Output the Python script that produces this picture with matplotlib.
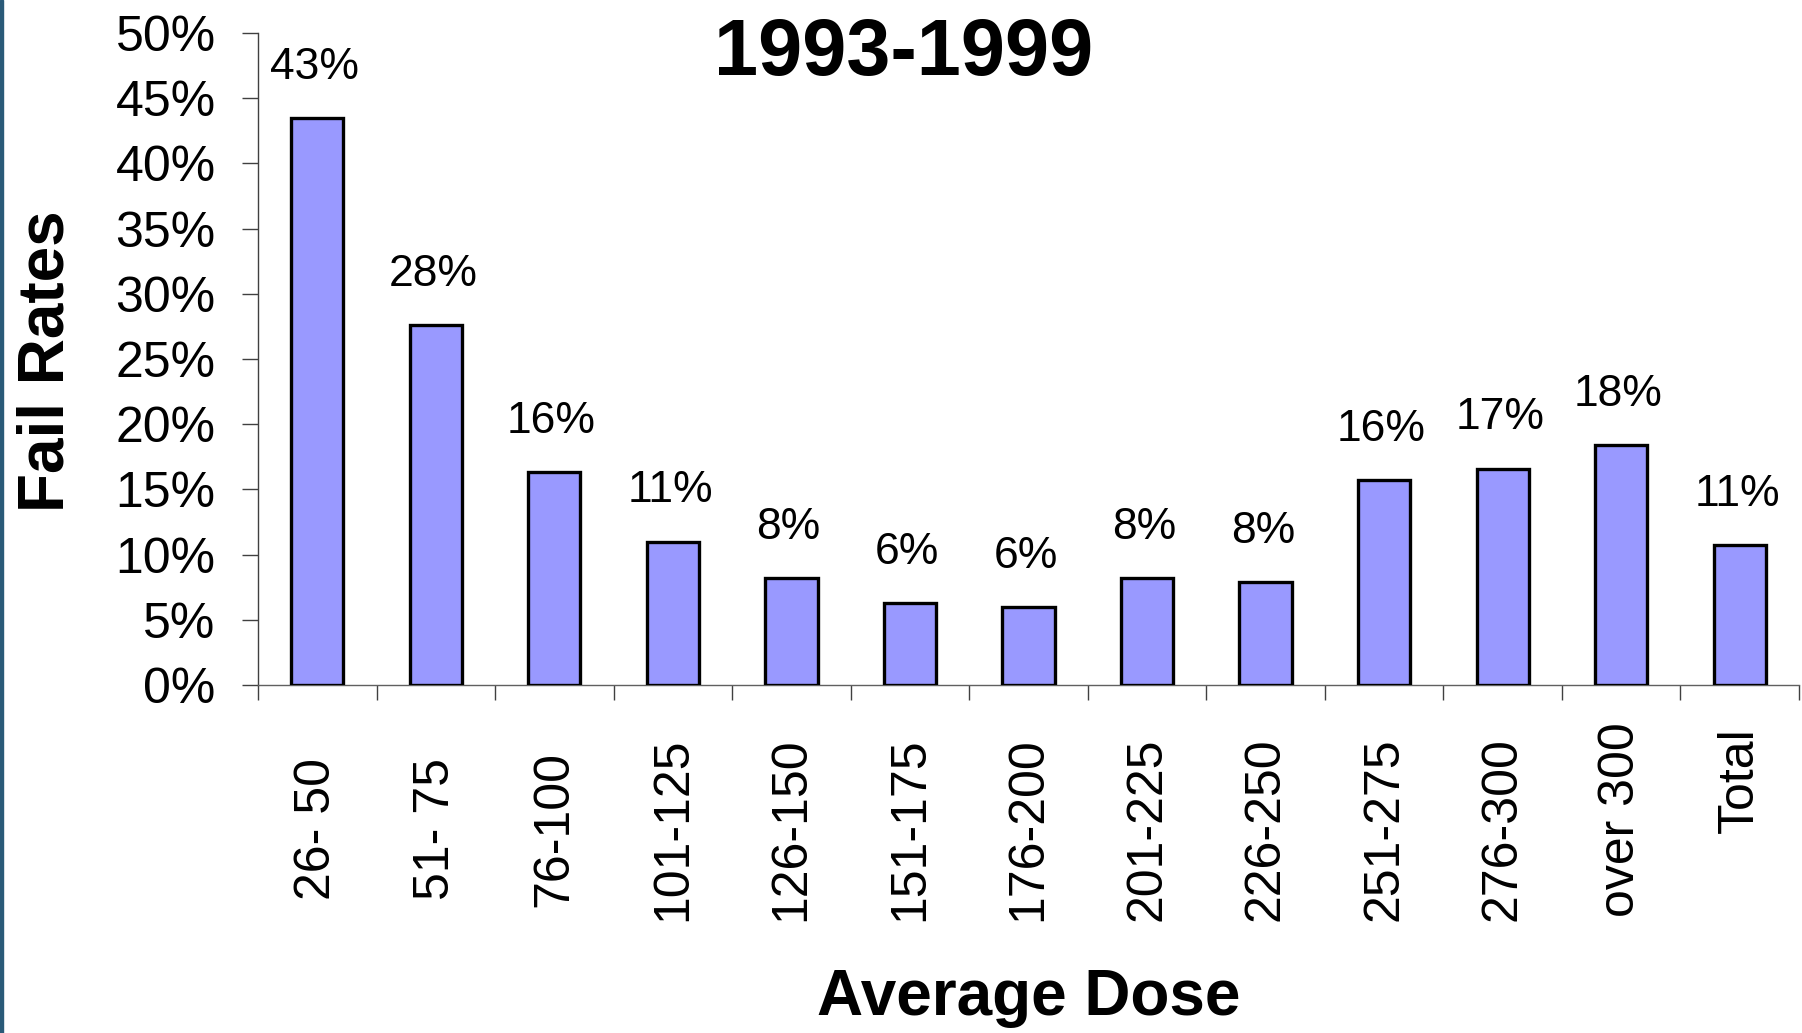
import matplotlib
matplotlib.use("Agg")
import matplotlib.pyplot as plt
import matplotlib.transforms as mtransforms
from matplotlib.patches import Rectangle

plt.rcParams['font.family'] = ['Liberation Sans', 'DejaVu Sans']

categories = ["26- 50", "51- 75", "76-100", "101-125", "126-150", "151-175",
              "176-200", "201-225", "226-250", "251-275", "276-300", "over 300", "Total"]
values = [43.5, 27.6, 16.3, 11.0, 8.2, 6.3, 6.0, 8.2, 7.9, 15.7, 16.6, 18.4, 10.7]
labels = ["43%", "28%", "16%", "11%", "8%", "6%", "6%", "8%", "8%", "16%", "17%", "18%", "11%"]
yticks = [0, 5, 10, 15, 20, 25, 30, 35, 40, 45, 50]
ytick_labels = [f"{t}%" for t in yticks]
title = "1993-1999"
xlabel = "Average Dose"
ylabel = "Fail Rates"

W, H = 1802, 1033
fig = plt.figure(figsize=(W / 100, H / 100), dpi=100)
fig.patch.set_facecolor("white")
ax = fig.add_axes([258 / W, 1 - 685 / H, (1799 - 258) / W, (685 - 33) / H])

n = len(categories)
x = list(range(n))
ax.bar(x, values, width=0.44, color="#9999FF", edgecolor="black", linewidth=2.4, zorder=3)
ax.set_xlim(-0.5, n - 0.5)
ax.set_ylim(0, 50)

for xi, v, lab in zip(x, values, labels):
    ax.annotate(lab, (xi, v), xytext=(-2, 36.5), textcoords="offset points",
                ha="center", va="center", fontsize=32, color="black")

ax.set_yticks(yticks)
ax.set_yticklabels(ytick_labels, fontsize=36)
ax.tick_params(axis="y", direction="out", length=11.5, width=1, color="#404040", pad=19)

# category boundary ticks on x-axis
ax.set_xticks([i - 0.5 for i in range(n + 1)])
ax.set_xticklabels([""] * (n + 1))
ax.tick_params(axis="x", which="major", direction="out", length=11, width=1, color="#404040")
ax.set_xticks(x, minor=True)
ax.set_xticklabels(categories, minor=True, rotation=90, fontsize=36, va="center", ha="center")
ax.tick_params(axis="x", which="minor", length=0, pad=104)
for i, t in enumerate(ax.get_xticklabels(minor=True)):
    if categories[i] == "Total":
        t.set_transform(t.get_transform() + mtransforms.ScaledTranslation(0, 49 / 100, fig.dpi_scale_trans))
    elif categories[i] == "over 300":
        t.set_transform(t.get_transform() + mtransforms.ScaledTranslation(0, 10 / 100, fig.dpi_scale_trans))

for side in ["top", "right"]:
    ax.spines[side].set_visible(False)
ax.spines["left"].set_color("#404040")
ax.spines["bottom"].set_color("#606060")
ax.spines["left"].set_linewidth(1)
ax.spines["bottom"].set_linewidth(1)

fig.text(904 / W, 1 - 55 / H, title, ha="center", va="center", fontsize=57, fontweight="bold")
fig.text(1029 / W, 1 - 998 / H, xlabel, ha="center", va="center", fontsize=46, fontweight="bold")
fig.text(47 / W, 1 - 361 / H, ylabel, ha="center", va="center", fontsize=46, fontweight="bold", rotation=90)

# dark strip at left edge
fig.patches.append(Rectangle((0, 0), 3 / W, 1, transform=fig.transFigure, color="#2a5a78", zorder=10))

fig.savefig("out.png", dpi=100, facecolor="white")
